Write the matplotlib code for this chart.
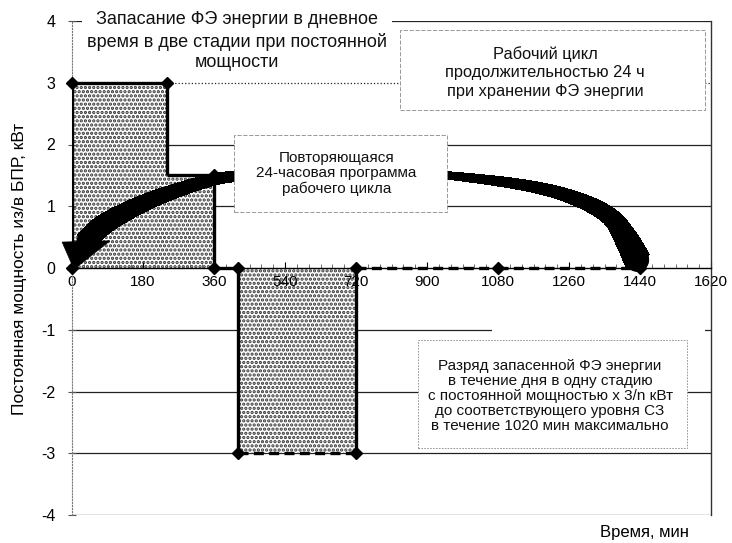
import numpy as np
import matplotlib
matplotlib.use('Agg')
import matplotlib.pyplot as plt
from matplotlib.patches import Rectangle, Polygon
from matplotlib.collections import PolyCollection
from matplotlib.ticker import MultipleLocator

plt.rcParams['font.family'] = ['Liberation Sans', 'DejaVu Sans']
plt.rcParams['hatch.linewidth'] = 1.6

# ---------------- data ----------------
time_min = [0, 0, 240, 240, 360, 360, 420, 420, 720, 720, 1080, 1440]
power_kw = [0, 3, 3, 1.5, 1.5, 0, 0, -3, -3, 0, 0, 0]
marker_idx = [0, 1, 2, 4, 5, 6, 7, 8, 9, 10, 11]
dashed_segments = [7, 9, 10]          # segment i joins point i and i+1
charge_idx = [0, 1, 2, 3, 4, 5]
discharge_idx = [6, 7, 8, 9]

x_ticks = [0, 180, 360, 540, 720, 900, 1080, 1260, 1440, 1620]
y_ticks = [-4, -3, -2, -1, 0, 1, 2, 3, 4]

# curved "repeat" arrow (centre line, min / kW) and its thickness (px)
arrow_x = [1433, 1407, 1364, 1237, 951, 680, 408, 357, 241, 155, 71, 35]
arrow_y = [0.13, 0.45, 0.83, 1.21, 1.50, 1.58, 1.48, 1.43, 1.20, 0.97, 0.66, 0.42]
arrow_w = [25, 22, 16, 11, 6, 6, 9, 10, 13, 16, 19, 20]
head_x = [-25, 96, 5]
head_y = [0.42, 0.44, -0.02]

txt_store = "Запасание ФЭ энергии в дневное\nвремя в две стадии при постоянной\nмощности"
txt_cycle = "Рабочий цикл\nпродолжительностью 24 ч\nпри хранении ФЭ энергии"
txt_repeat = "Повторяющаяся\n24-часовая программа\nрабочего цикла"
txt_discharge = ("Разряд запасенной ФЭ энергии\nв течение дня в одну стадию\n"
                 "с постоянной мощностью х 3/n кВт\nдо соответствующего уровня СЗ\n"
                 "в течение 1020 мин максимально")
y_label = "Постоянная мощность из/в БПР, кВт"
x_label = "Время, мин"

# ---------------- figure ----------------
fig = plt.figure(figsize=(7.32, 5.43), dpi=100)
ax = fig.add_axes([72/732, 28/543, 639/732, 494/543])
ax.set_xlim(0, 1620)
ax.set_ylim(-4, 4)

# gridlines
for yv in y_ticks:
    if yv == 0:
        continue
    ls = ':' if yv == 3 else '-'
    ax.axhline(yv, color='#222222', lw=0.9, ls=ls, zorder=1)

# spines
ax.spines['top'].set_visible(False)
ax.spines['bottom'].set_position(('data', 0))
ax.spines['bottom'].set_linewidth(1.0)
ax.spines['right'].set_linewidth(1.0)
ax.spines['right'].set_color('#333333')
ax.spines['left'].set_linestyle(':')
ax.spines['left'].set_color('#777777')

ax.set_xticks(x_ticks)
ax.set_xticklabels([str(v) for v in x_ticks])
ax.xaxis.set_minor_locator(MultipleLocator(30))
ax.tick_params(axis='x', which='major', direction='in', length=4, pad=5, labelsize=11)
ax.tick_params(axis='x', which='minor', direction='in', length=3, color='#555555')
ax.set_yticks(y_ticks)
ax.set_yticklabels([str(v) for v in y_ticks])
ax.tick_params(axis='y', which='major', direction='inout', length=6, pad=9, labelsize=11.5,
               color='#555555')

# hatched areas
tx = np.array(time_min, dtype=float)
py = np.array(power_kw, dtype=float)
for idx in (charge_idx, discharge_idx):
    ax.fill(tx[idx], py[idx], facecolor='white', edgecolor='#333333', lw=0,
            hatch='....', zorder=1.2)

# step line
for i in range(len(tx) - 1):
    ls = (0, (3, 1.6)) if i in dashed_segments else '-'
    ax.plot(tx[i:i+2], py[i:i+2], color='black', lw=2.4, ls=ls,
            solid_capstyle='butt', zorder=6)
ax.plot(tx[marker_idx], py[marker_idx], ls='none', marker='D', ms=6,
        color='black', zorder=7, clip_on=False)

# curved arrow (variable width band)
fig.canvas.draw()
P = ax.transData.transform(np.column_stack([arrow_x, arrow_y]))
W = np.array(arrow_w, dtype=float)


def cr_points(P, W, n=40, alpha=0.5):
    pts, ws = [], []
    ext = np.vstack([2*P[0]-P[1], P, 2*P[-1]-P[-2]])
    for i in range(len(P) - 1):
        p0, p1, p2, p3 = ext[i], ext[i+1], ext[i+2], ext[i+3]
        t0 = 0.0
        t1 = t0 + np.linalg.norm(p1-p0)**alpha
        t2 = t1 + np.linalg.norm(p2-p1)**alpha
        t3 = t2 + np.linalg.norm(p3-p2)**alpha
        t = np.linspace(t1, t2, n, endpoint=False)[:, None]
        A1 = (t1-t)/(t1-t0)*p0 + (t-t0)/(t1-t0)*p1
        A2 = (t2-t)/(t2-t1)*p1 + (t-t1)/(t2-t1)*p2
        A3 = (t3-t)/(t3-t2)*p2 + (t-t2)/(t3-t2)*p3
        B1 = (t2-t)/(t2-t0)*A1 + (t-t0)/(t2-t0)*A2
        B2 = (t3-t)/(t3-t1)*A2 + (t-t1)/(t3-t1)*A3
        C = (t2-t)/(t2-t1)*B1 + (t-t1)/(t2-t1)*B2
        pts.append(C)
        f = np.linspace(0, 1, n, endpoint=False)
        ws.append(W[i] + (W[i+1]-W[i])*f)
    pts.append(P[-1][None, :])
    ws.append(np.array([W[-1]]))
    return np.vstack(pts), np.concatenate(ws)


C, Ws = cr_points(P, W)
# tangent from neighbours (robust against uneven sampling)
T = np.zeros_like(C)
T[1:-1] = C[2:] - C[:-2]
T[0] = C[1] - C[0]
T[-1] = C[-1] - C[-2]
T /= np.linalg.norm(T, axis=1)[:, None]
N = np.column_stack([-T[:, 1], T[:, 0]])
inv = ax.transData.inverted()
L = inv.transform(C + N * (Ws[:, None] / 2))
R = inv.transform(C - N * (Ws[:, None] / 2))
quads = [np.array([L[i], L[i+1], R[i+1], R[i]]) for i in range(len(C) - 1)]
pc = PolyCollection(quads, facecolors='black', edgecolors='black', linewidths=1.0,
                    antialiaseds=False, zorder=3, clip_on=False)
ax.add_collection(pc)
# solid core of overlapping disks so that no seam can show
Cd = inv.transform(C)
ax.scatter(Cd[:, 0], Cd[:, 1], s=(Ws * 0.72 * 0.95) ** 2, c='black', marker='o',
           linewidths=0, zorder=3, clip_on=False)
# smooth outline on top of the band
outline = np.vstack([L, R[::-1]])
ax.add_patch(Polygon(outline, closed=True, facecolor='none', edgecolor='black',
                     lw=0.6, zorder=3, clip_on=False))
ax.add_patch(Polygon(np.column_stack([head_x, head_y]), closed=True, facecolor='black',
                     edgecolor='black', lw=0.5, zorder=3, clip_on=False))

# white text boxes
boxes = [
    ((25, 3.07), 786, 1.19, 'none', '-'),
    ((832, 2.56), 773, 1.29, '#888888', (0, (5, 2))),
    ((411, 0.91), 540, 1.24, '#888888', (0, (5, 2))),
    ((877, -2.91), 682, 1.74, '#888888', (0, (2, 1.5))),
    ((1065, -1.17), 540, 0.33, 'none', '-'),
]
for (xy, w, h, ec, ls) in boxes:
    ax.add_patch(Rectangle(xy, w, h, facecolor='white', edgecolor=ec, lw=0.6, ls=ls,
                           zorder=4, clip_on=False))

ax.text(418, 3.67, txt_store, ha='center', va='center', fontsize=13,
        linespacing=1.3, zorder=5, color='#111111')
ax.text(1199, 3.17, txt_cycle, ha='center', va='center', fontsize=11.8,
        linespacing=1.3, zorder=5, color='#111111')
ax.text(670, 1.53, txt_repeat, ha='center', va='center', fontsize=11,
        linespacing=1.1, zorder=5, color='#111111')
ax.text(1212, -2.07, txt_discharge, ha='center', va='center', fontsize=11,
        linespacing=1.1, zorder=5, color='#111111')

fig.text(20/732, 1 - 269/543, y_label, rotation=90, ha='center', va='center',
         fontsize=12.5)
fig.text(645/732, 1 - 533/543, x_label, ha='center', va='center', fontsize=12)

fig.savefig('out.png', dpi=100)
